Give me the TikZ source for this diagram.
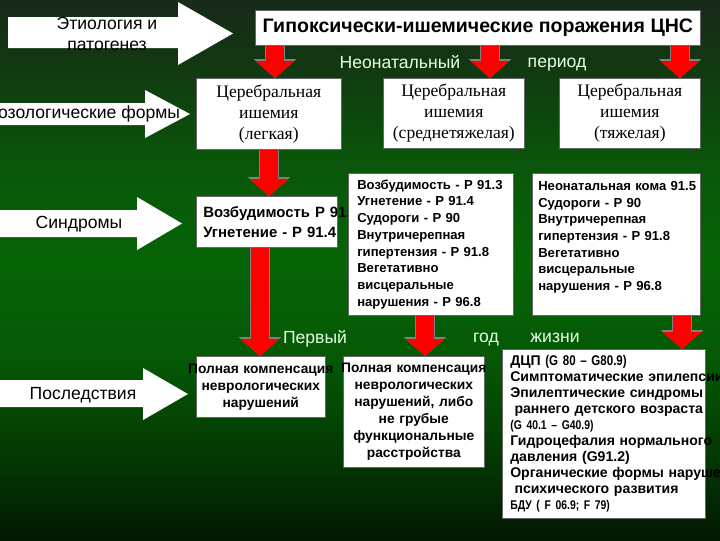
\documentclass[tikz,border=0pt]{standalone}
\usepackage{fontspec}
\setmainfont{Liberation Sans}
\newfontfamily\cyrserif{Liberation Serif}
\newfontfamily\narrowsans[FakeStretch=0.82]{Liberation Sans}
\usetikzlibrary{arrows.meta,positioning,calc}
\exhyphenpenalty=10000

\definecolor{bgtop}{RGB}{24,42,24}
\definecolor{bgup}{RGB}{18,55,18}
\definecolor{bghigh}{RGB}{10,85,10}
\definecolor{bgmid}{RGB}{6,100,6}
\definecolor{bglow}{RGB}{5,88,5}
\definecolor{bgdeep}{RGB}{3,55,3}
\definecolor{bgbot}{RGB}{2,24,2}
\pgfdeclareverticalshading{slidebg}{100bp}{color(0bp)=(bgbot); color(25bp)=(bgbot);
  color(32.4bp)=(bgdeep); color(41.7bp)=(bglow); color(50.9bp)=(bgmid);
  color(60.2bp)=(bghigh); color(69.4bp)=(bgup); color(75bp)=(bgtop); color(100bp)=(bgtop)}

\begin{document}
\begin{tikzpicture}[
    x=0.025cm,
    y=-0.025cm,
    box/.style={draw=black!60, fill=white, inner sep=0pt, anchor=north west},
    serifbox/.style={box, align=center, font=\cyrserif\fontsize{12.5}{15}\selectfont},
    codebox/.style={box, align=left, font=\bfseries\fontsize{9.3}{11.9}\selectfont},
    outbox/.style={box, align=center, font=\bfseries\fontsize{9.8}{12.1}\selectfont},
    side/.style={font=\fontsize{12.5}{15}\selectfont, align=center},
    period/.style={text=white!90!green, font=\fontsize{12.5}{15}\selectfont, anchor=base},
    redarr/.style={draw=red, line width=13pt, -{Triangle[width=27pt,length=12pt]},
        preaction={draw=black!50, line width=14.4pt, -{Triangle[width=29.4pt,length=13.4pt]}}}
]
\useasboundingbox (0,0) rectangle (720,540);
\shade[shading=slidebg] (0,0) rectangle (720,540);

% left column
\fill[white] (8,17) -- (178,17) -- (178,2) -- (233,33.5) -- (178,65) -- (178,48) -- (8,48) -- cycle;
\node[side] (etio) at (107,34) {Этиология и\\патогенез};
\fill[white] (0,103) -- (145,103) -- (145,90) -- (190,114) -- (145,138) -- (145,125) -- (0,125) -- cycle;
\node[side, anchor=east] (nozo) at (185,114) {Нозологические формы};
\fill[white] (0,210) -- (137,210) -- (137,197) -- (182,223.5) -- (137,250) -- (137,237) -- (0,237) -- cycle;
\node[side] (synd) at (79,224) {Синдромы};
\fill[white] (0,380) -- (143,380) -- (143,368) -- (188,394) -- (143,420) -- (143,407) -- (0,407) -- cycle;
\node[side] (cons) at (83,395) {Последствия};

% boxes
\node[box, minimum width=11.125cm, minimum height=0.875cm, font=\bfseries\fontsize{13.9}{16}\selectfont] (title) at (255,10) {Гипоксически-ишемические поражения ЦНС};

\node[serifbox, minimum width=3.625cm, minimum height=1.775cm] (ischL) at (196,78) {Церебральная\\ишемия\\(легкая)};
\node[serifbox, minimum width=3.525cm, minimum height=1.75cm] (ischM) at (383,78) {Церебральная\\ишемия\\(среднетяжелая)};
\node[serifbox, minimum width=3.525cm, minimum height=1.75cm] (ischS) at (559,78) {Церебральная\\ишемия\\(тяжелая)};

\node[codebox, font=\bfseries\fontsize{10.6}{14.2}\selectfont, text width=3.175cm, inner xsep=0.175cm, minimum height=1.275cm] (synL) at (196,196)
  {\mbox{Возбудимость P 91.3}\\\mbox{Угнетение - P 91.4}};
\node[codebox, text width=3.675cm, inner xsep=0.225cm, minimum height=3.55cm] (synM) at (348,173)
  {Возбудимость~-~P~91.3\\Угнетение~-~P~91.4\\Судороги~-~P~90\\Внутричерепная\\гипертензия~-~P~91.8\\Вегетативно\\висцеральные\\нарушения~-~P~96.8};
\node[codebox, text width=3.9cm, inner xsep=0.15cm, minimum height=3.55cm] (synS) at (532,173)
  {Неонатальная~кома~91.5\\Судороги~-~P~90\\Внутричерепная\\гипертензия~-~P~91.8\\Вегетативно\\висцеральные\\нарушения~-~P~96.8\\\mbox{}};

\node[outbox, text width=3.225cm, minimum height=1.525cm] (outL) at (196,356)
  {\makebox[0pt]{Полная~компенсация}\\неврологических\\нарушений};
\node[outbox, text width=3.525cm, minimum height=2.775cm] (outM) at (343,356)
  {\makebox[0pt]{Полная~компенсация}\\неврологических\\нарушений, либо\\не грубые\\функциональные\\расстройства};
\node[codebox, font=\bfseries\fontsize{10}{11.4}\selectfont, text width=4.675cm, inner xsep=0.2cm, minimum height=4.225cm] (outS) at (502,349)
  {ДЦП {\narrowsans(G~80~–~G80.9)}\\
   Симптоматические~эпилепсии\\
   Эпилептические~синдромы\\
   \mbox{\hspace*{0.3em}раннего~детского~возраста}\\
   {\narrowsans\fontsize{9}{11.4}\selectfont(G~40.1~–~G40.9)}\\
   Гидроцефалия~нормального\\
   давления~(G91.2)\\
   Органические~формы~нарушений\\
   \mbox{\hspace*{0.3em}психического~развития}\\
   {\narrowsans\fontsize{9}{11.4}\selectfont БДУ~(~F~06.9;~F~79)}};

% period labels
\node[period] (neo) at (400,68) {Неонатальный};
\node[period] (per) at (557,67) {период};
\node[period] (first) at (315,343) {Первый};
\node[period] (year) at (486,342) {год};
\node[period] (life) at (555,342) {жизни};

% red arrows
\coordinate (xa) at (275,0);
\coordinate (xb) at (490,0);
\coordinate (xc) at (680,0);
\coordinate (xd) at (269,0);
\coordinate (xe) at (260,0);
\coordinate (xf) at (425,0);
\coordinate (xg) at (682,0);
\draw[redarr] (title.south -| xa) -- (ischL.north -| xa);
\draw[redarr] (title.south -| xb) -- (ischM.north -| xb);
\draw[redarr] (title.south -| xc) -- (ischS.north -| xc);
\draw[redarr] (ischL.south -| xd) -- (synL.north -| xd);
\draw[redarr] (synL.south -| xe) -- (outL.north -| xe);
\draw[redarr] (synM.south -| xf) -- (outM.north -| xf);
\draw[redarr] (synS.south -| xg) -- (outS.north -| xg);
\end{tikzpicture}
\end{document}
